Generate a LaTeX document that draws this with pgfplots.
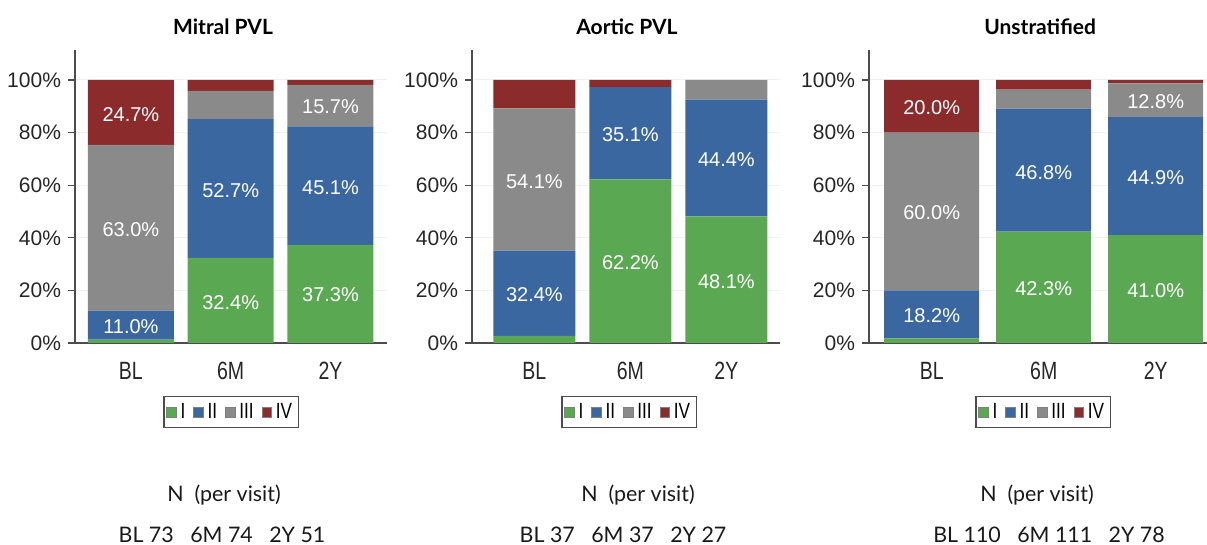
\documentclass[border=0pt]{standalone}
\usepackage{fontspec}
\setmainfont{Liberation Sans}
\newfontfamily\latofont{Lato}
\newfontfamily\narrowfont[FakeStretch=0.78]{Liberation Sans}
\usepackage{pgfplots}
\usepackage{pgfplotstable}
\pgfplotsset{compat=1.18}
\definecolor{cI}{HTML}{5BA853}
\definecolor{cII}{HTML}{3A67A0}
\definecolor{cIII}{HTML}{8A8A8A}
\definecolor{cIV}{HTML}{8B2B2B}

\pgfplotstableread{
x I II III IV
0 1.3 11.0 63.0 24.7
1 32.4 52.7 10.8 4.1
2 37.3 45.1 15.7 1.9
}\mitral
\pgfplotstableread{
x I II III IV
0 2.7 32.4 54.1 10.8
1 62.2 35.1 0.0 2.7
2 48.1 44.4 7.5 0.0
}\aortic
\pgfplotstableread{
x I II III IV
0 1.8 18.2 60.0 20.0
1 42.3 46.8 7.2 3.7
2 41.0 44.9 12.8 1.3
}\unstrat

% segment labels: x position, vertical centre of the segment, shown value
\newcommand\lbl[3]{\node[anchor=center, text=white, font=\fontsize{10}{11}\selectfont] at (axis cs:#1,#2) {#3\%};}

\pgfplotsset{
  seg/.style={
    fill=#1, draw=none,
    legend image code/.code={\draw[fill=#1, draw=black!50, line width=0.3pt] (0pt,-2.4pt) rectangle (4.8pt,2.4pt);},
  },
  panel/.style={
    scale only axis, ybar stacked,
    ymin=0, ymax=111.4, y=1.315pt,
    axis x line=bottom, axis y line=left,
    axis line style={-, draw=black!70, line width=0.7pt},
    ytick={0,20,40,60,80,100},
    yticklabels={0\%,20\%,40\%,60\%,80\%,100\%},
    ytick pos=left, tick align=outside, major tick length=3.5pt,
    ytick style={draw=black!70, line width=0.6pt},
    xtick={0,1,2}, xticklabels={BL,6M,2Y},
    xtick style={draw=none},
    yticklabel style={font=\fontsize{10.5}{12}\selectfont, text=black!85},
    xticklabel style={font=\narrowfont\fontsize{12.5}{14}\selectfont, text=black!85, yshift=-2.5pt},
    ymajorgrids, grid style={black!6, line width=0.5pt},
    legend columns=4,
    legend style={anchor=north, draw=black!70, line width=0.6pt, inner sep=1.2pt,
      font=\narrowfont\fontsize{11}{12}\selectfont,
      /tikz/every even column/.append style={column sep=2pt}},
    clip=false,
  },
  ttl/.style={title style={font=\latofont\bfseries\fontsize{10.5}{12}\selectfont, at={(#1,1.037)}, anchor=center, yshift=0pt}},
}

\begin{document}
\begin{tikzpicture}
\useasboundingbox (0pt,0pt) rectangle (603.5pt,-272.5pt);

\begin{axis}[panel, at={(37.5pt,-171.5pt)}, anchor=south west,
  x=49.9pt, xmin=-0.56, xmax=2.57, bar width=43pt,
  title={Mitral PVL}, ttl=0.474,
  legend style={at={(0.5,-0.181)}},
  after end axis/.code={
    \lbl{0}{87.0}{24.7}\lbl{0}{43.2}{63.0}\lbl{0}{6.3}{11.0}
    \lbl{1}{15.5}{32.4}\lbl{1}{58.0}{52.7}
    \lbl{2}{18.3}{37.3}\lbl{2}{59.2}{45.1}\lbl{2}{89.8}{15.7}}]
\addplot[seg=cI] table[x=x,y=I]{\mitral};
\addplot[seg=cII] table[x=x,y=II]{\mitral};
\addplot[seg=cIII] table[x=x,y=III]{\mitral};
\addplot[seg=cIV] table[x=x,y=IV]{\mitral};
\legend{I,II,III,IV}
\end{axis}

\begin{axis}[panel, at={(236pt,-171.5pt)}, anchor=south west,
  x=48pt, xmin=-0.65, xmax=2.56, bar width=41pt,
  title={Aortic PVL}, ttl=0.503,
  legend style={at={(0.51,-0.181)}},
  after end axis/.code={
    \lbl{0}{18.4}{32.4}\lbl{0}{61.4}{54.1}
    \lbl{1}{30.5}{62.2}\lbl{1}{79.1}{35.1}
    \lbl{2}{23.3}{48.1}\lbl{2}{69.7}{44.4}}]
\addplot[seg=cI] table[x=x,y=I]{\aortic};
\addplot[seg=cII] table[x=x,y=II]{\aortic};
\addplot[seg=cIII] table[x=x,y=III]{\aortic};
\addplot[seg=cIV] table[x=x,y=IV]{\aortic};
\legend{I,II,III,IV}
\end{axis}

\begin{axis}[panel, at={(434.5pt,-171.5pt)}, anchor=south west,
  x=56pt, xmin=-0.56, xmax=2.46, bar width=47.5pt,
  title={Unstratified}, ttl=0.506,
  legend style={at={(0.515,-0.181)}},
  after end axis/.code={
    \lbl{0}{10.5}{18.2}\lbl{0}{49.4}{60.0}\lbl{0}{89.4}{20.0}
    \lbl{1}{20.6}{42.3}\lbl{1}{64.8}{46.8}
    \lbl{2}{20.0}{41.0}\lbl{2}{62.8}{44.9}\lbl{2}{91.8}{12.8}}]
\addplot[seg=cI] table[x=x,y=I]{\unstrat};
\addplot[seg=cII] table[x=x,y=II]{\unstrat};
\addplot[seg=cIII] table[x=x,y=III]{\unstrat};
\addplot[seg=cIV] table[x=x,y=IV]{\unstrat};
\legend{I,II,III,IV}
\end{axis}

\begin{scope}[every node/.style={font=\latofont\fontsize{10.7}{13}\selectfont, text=black!90}]
\node at (112pt,-247.5pt) {N\ \ (per visit)};
\node at (111pt,-267.5pt) {BL 73\ \ \ 6M 74\ \ \ 2Y 51};
\node at (319pt,-247.5pt) {N\ \ (per visit)};
\node at (311.5pt,-267.5pt) {BL 37\ \ \ 6M 37\ \ \ 2Y 27};
\node at (518.5pt,-247.5pt) {N\ \ (per visit)};
\node at (524.5pt,-267.5pt) {BL 110\ \ \ 6M 111\ \ \ 2Y 78};
\end{scope}
\end{tikzpicture}
\end{document}
